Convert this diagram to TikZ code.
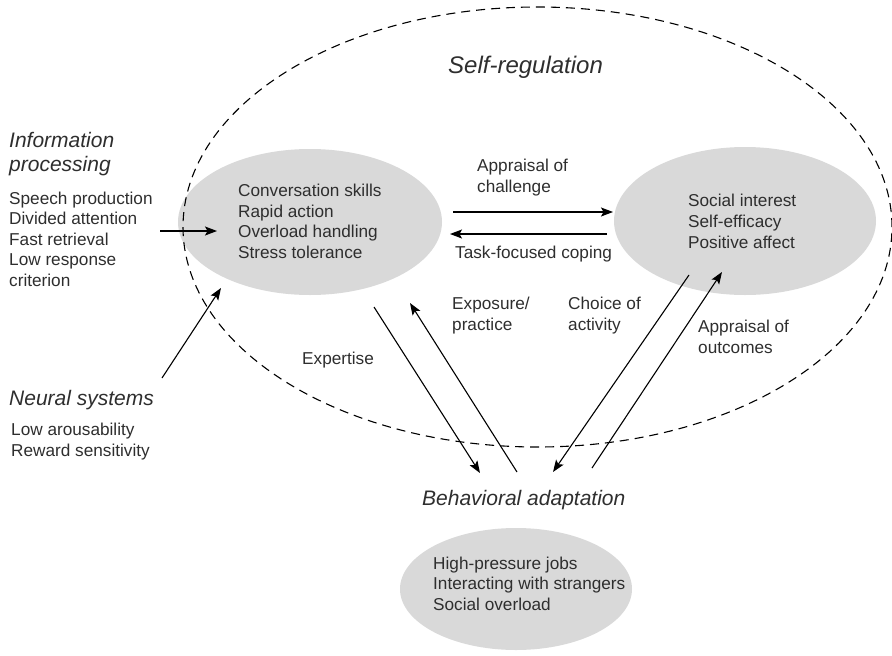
\documentclass[tikz,border=0pt]{standalone}
\usepackage{fontspec}
\setmainfont{Liberation Sans}
\usetikzlibrary{shapes.geometric,arrows.meta}
\definecolor{blobgray}{HTML}{D9D9D9}
\definecolor{inkgray}{HTML}{2E2E2E}
\begin{document}
\begin{tikzpicture}[x=1pt,y=-1pt,
  blob/.style={ellipse,fill=blobgray,draw=none,inner sep=0pt},
  body/.style={font=\fontsize{17.2}{20.6}\selectfont,text=inkgray,align=left,inner sep=0pt,anchor=base west},
  title/.style={font=\fontsize{21}{23.5}\selectfont\itshape,text=inkgray,align=left,inner sep=0pt,anchor=base west},
  conn/.style={line width=1.1pt,-{Stealth[length=12pt,width=9pt,inset=2.5pt]}},
  bound/.style={ellipse,draw,dashed,dash pattern=on 9pt off 6pt,line width=1.1pt,inner sep=0pt}]
\useasboundingbox (0,0) rectangle (892,656);
% grey ellipses
\node[blob,minimum width=264pt,minimum height=146pt] (L) at (310,222) {};
\node[blob,minimum width=262pt,minimum height=148pt] (R) at (745,221) {};
\node[blob,minimum width=232pt,minimum height=122pt] (B) at (516,589) {};
% dashed self-regulation boundary
\node[bound,minimum width=709pt,minimum height=440pt] (SR) at (537.5,227) {};
% texts (base anchor = baseline of last line)
\node[title,font=\fontsize{24}{26}\selectfont\itshape] (srt) at (448,73) {Self-regulation};
\node[title] (ipt) at (9,171) {Information\\processing};
\node[body] (ipx) at (9,286.5) {Speech production\\Divided attention\\Fast retrieval\\Low response\\criterion};
\node[title] (nst) at (9,405) {Neural systems};
\node[body] (nsx) at (11,456.5) {Low arousability\\Reward sensitivity};
\node[body] (Lt) at (238,258.5) {Conversation skills\\Rapid action\\Overload handling\\Stress tolerance};
\node[body] (Rt) at (688,248) {Social interest\\Self-efficacy\\Positive affect};
\node[body] (Bt) at (433,610.5) {High-pressure jobs\\Interacting with strangers\\Social overload};
\node[title] (bat) at (422,505) {Behavioral adaptation};
\node[body] (lac) at (477,192.5) {Appraisal of\\challenge};
\node[body] (ltc) at (455,258) {Task-focused coping};
\node[body] (lex) at (452,330) {Exposure/\\practice};
\node[body] (lch) at (568,330) {Choice of\\activity};
\node[body] (lao) at (698,353.5) {Appraisal of\\outcomes};
\node[body] (lep) at (302,364) {Expertise};
% connector end points
\coordinate (ip1) at (160,231); \coordinate (ip2) at (217,231);
\coordinate (ns1) at (162,378); \coordinate (ns2) at (221,288);
\coordinate (ac1) at (453,212); \coordinate (ac2) at (613,212);
\coordinate (tc1) at (607,234); \coordinate (tc2) at (450,234);
\coordinate (ex1) at (374,307); \coordinate (ex2) at (480,473);
\coordinate (ep1) at (517,472); \coordinate (ep2) at (410,303);
\coordinate (ch1) at (689,275); \coordinate (ch2) at (553,472);
\coordinate (ao1) at (592,468); \coordinate (ao2) at (722,272);
% connectors
\draw[conn] (ip1) -- (ip2);
\draw[conn] (ns1) -- (ns2);
\draw[conn] (ac1) -- (ac2);
\draw[conn] (tc1) -- (tc2);
\draw[conn] (ex1) -- (ex2);
\draw[conn] (ep1) -- (ep2);
\draw[conn] (ch1) -- (ch2);
\draw[conn] (ao1) -- (ao2);
\end{tikzpicture}
\end{document}
